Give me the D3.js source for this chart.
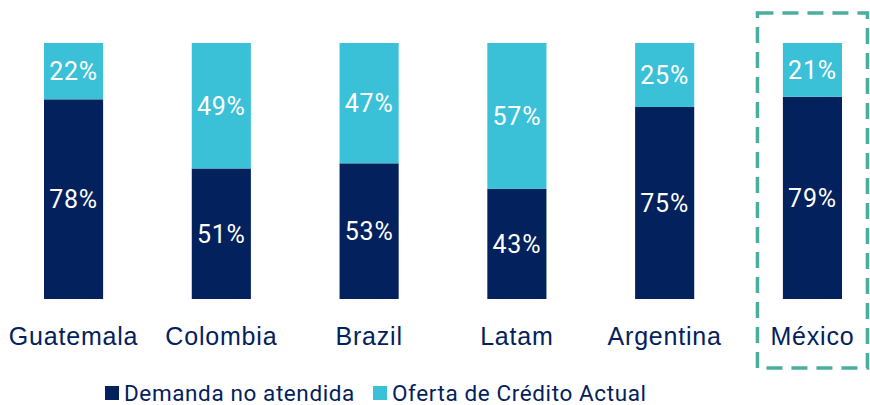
<!DOCTYPE html>
<html>
<head>
<meta charset="utf-8">
<script src="https://cdn.jsdelivr.net/npm/d3@7"></script>
<style>
  body { margin: 0; background: #fff; }
  svg { font-family: Roboto, "DejaVu Sans", sans-serif; }
</style>
</head>
<body>
<svg id="drawing_region"></svg>
<script>
// chart data
const countries = ['Guatemala', 'Colombia', 'Brazil', 'Latam', 'Argentina', 'México'];
const demanda = [78, 51, 53, 43, 75, 79];   // Demanda no atendida
const oferta  = [22, 49, 47, 57, 25, 21];   // Oferta de Crédito Actual
const seriesNames = ['Demanda no atendida', 'Oferta de Crédito Actual'];
const highlight = 'México';

const colors = ['#03215c', '#3ac1d8'];

const config = {
    parent: '#drawing_region',
    width: 870,
    height: 405,
    margin: { top: 43, right: 28, bottom: 106, left: 44 }
};

const table = countries.map((c, i) => ({ label: c, demanda: demanda[i], oferta: oferta[i] }));

const svg = d3.select(config.parent)
    .attr('width', config.width)
    .attr('height', config.height);

const inner_width = config.width - config.margin.left - config.margin.right;
const inner_height = config.height - config.margin.top - config.margin.bottom;

const chart = svg.append('g')
    .attr('transform', `translate(${config.margin.left}, ${config.margin.top})`);

const xscale = d3.scaleBand()
    .domain(countries)
    .range([0, inner_width])
    .paddingInner(0.6)
    .paddingOuter(0);

const yscale = d3.scaleLinear()
    .domain([0, 100])
    .range([inner_height, 0]);

const stack = d3.stack().keys(['demanda', 'oferta']);
const layers = stack(table);

// bars
const layer = chart.selectAll('.layer')
    .data(layers)
    .enter().append('g')
    .attr('class', 'layer')
    .attr('fill', (d, i) => colors[i]);

layer.selectAll('rect')
    .data(d => d)
    .enter().append('rect')
    .attr('x', d => xscale(d.data.label))
    .attr('y', d => yscale(d[1]))
    .attr('width', xscale.bandwidth())
    .attr('height', d => yscale(d[0]) - yscale(d[1]));

// value labels
layer.selectAll('text')
    .data(d => d)
    .enter().append('text')
    .attr('x', d => xscale(d.data.label) + xscale.bandwidth() / 2)
    .attr('y', d => (yscale(d[0]) + yscale(d[1])) / 2)
    .attr('dy', '0.36em')
    .attr('text-anchor', 'middle')
    .attr('fill', '#fff')
    .attr('font-size', 25)
    .attr('letter-spacing', 0.8)
    .text(d => `${d[1] - d[0]}%`);

// x axis (labels only)
const xaxis = d3.axisBottom(xscale).tickSize(0).tickPadding(28);
const xaxis_group = chart.append('g')
    .attr('transform', `translate(0, ${inner_height})`)
    .call(xaxis);
xaxis_group.select('.domain').remove();
xaxis_group.selectAll('text')
    .attr('fill', '#03215c')
    .attr('font-size', 25)
    .attr('letter-spacing', 0.8)
    .attr('font-family', null);

// highlight box around México
const hx = xscale(highlight) + xscale.bandwidth() / 2;
chart.append('rect')
    .attr('x', hx - 55)
    .attr('y', -30)
    .attr('width', 110)
    .attr('height', inner_height + 99)
    .attr('fill', 'none')
    .attr('stroke', '#4aae9e')
    .attr('stroke-width', 3.5)
    .attr('stroke-dasharray', '16,9');

// legend
const legend = svg.append('g')
    .attr('transform', 'translate(105, 386)');
const items = [{ x: 0 }, { x: 268 }];
seriesNames.forEach((name, i) => {
    const g = legend.append('g').attr('transform', `translate(${items[i].x}, 0)`);
    g.append('rect')
        .attr('width', 14).attr('height', 14)
        .attr('fill', colors[i]);
    g.append('text')
        .attr('x', 19).attr('y', 15)
        .attr('font-size', 22.5)
        .attr('letter-spacing', 0.6)
        .attr('fill', '#03215c')
        .text(name);
});
</script>
</body>
</html>
